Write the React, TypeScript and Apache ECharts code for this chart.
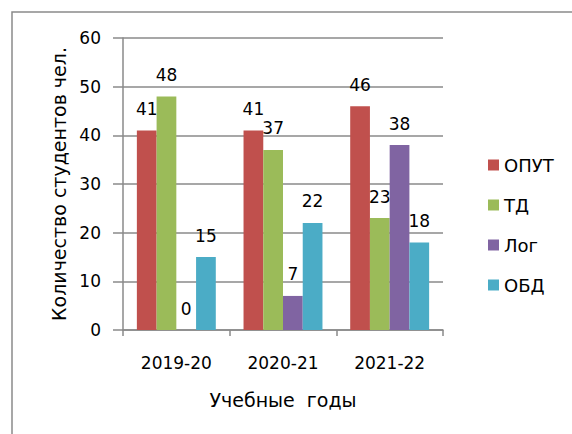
import React, { useEffect, useRef } from "react";
import * as echarts from "echarts";

const categories = ["2019-20", "2020-21", "2021-22"];
const seriesNames = ["ОПУТ", "ТД", "Лог", "ОБД"];
const opyt = [41, 41, 46];
const td = [48, 37, 23];
const log = [0, 7, 38];
const obd = [15, 22, 18];
const colors = ["#C0504D", "#9BBB59", "#8064A2", "#4BACC6"];

const FONT = "DejaVu Sans";

export default function App() {
  const ref = useRef<HTMLDivElement>(null);
  useEffect(() => {
    if (!ref.current) return;
    const chart = echarts.init(ref.current, null, { renderer: "svg" });
    const values = [opyt, td, log, obd];
    chart.setOption({
      animation: false,
      backgroundColor: "#ffffff",
      textStyle: { fontFamily: FONT },
      graphic: [
        {
          type: "rect",
          shape: { x: 12, y: 12, width: 600, height: 500 },
          style: { fill: "none", stroke: "#8a8a8a", lineWidth: 1.5 },
          silent: true,
        },
      ],
      legend: {
        orient: "vertical",
        left: 483,
        top: 151,
        itemWidth: 11,
        itemHeight: 11,
        itemGap: 22,
        icon: "rect",
        data: seriesNames,
        textStyle: { fontFamily: FONT, fontSize: 18, color: "#000" },
      },
      grid: { left: 123, top: 38, right: 129, bottom: 104, containLabel: false },
      xAxis: {
        type: "category",
        data: categories,
        name: "Учебные  годы",
        nameLocation: "middle",
        nameGap: 60,
        nameTextStyle: { fontFamily: FONT, fontSize: 19, color: "#000" },
        axisLine: { show: true, lineStyle: { color: "#8a8a8a", width: 1.5 } },
        axisTick: { show: true, length: 6, lineStyle: { color: "#8a8a8a", width: 1.5 } },
        axisLabel: { margin: 24, fontFamily: FONT, fontSize: 17, color: "#000" },
      },
      yAxis: {
        type: "value",
        min: 0,
        max: 60,
        interval: 10,
        name: "Количество студентов чел.",
        nameLocation: "middle",
        nameGap: 54,
        nameTextStyle: { fontFamily: FONT, fontSize: 19, color: "#000" },
        axisLine: { show: true, lineStyle: { color: "#8a8a8a", width: 1.5 } },
        axisTick: { show: true, length: 10, lineStyle: { color: "#8a8a8a", width: 1.5 } },
        splitLine: { show: true, lineStyle: { color: "#8a8a8a", width: 1.5 } },
        axisLabel: { margin: 22, fontFamily: FONT, fontSize: 17, color: "#000" },
      },
      series: seriesNames.map((name, i) => ({
        name,
        type: "bar",
        data: values[i],
        barGap: "0%",
        barCategoryGap: "26%",
        itemStyle: { color: colors[i] },
        label: {
          show: true,
          position: "top",
          distance: 13,
          fontFamily: FONT,
          fontSize: 17,
          color: "#000",
        },
      })),
    });
    return () => chart.dispose();
  }, []);
  return (
    <div
      ref={ref}
      style={{ position: "fixed", left: 0, top: 0, width: 572, height: 434 }}
    />
  );
}
